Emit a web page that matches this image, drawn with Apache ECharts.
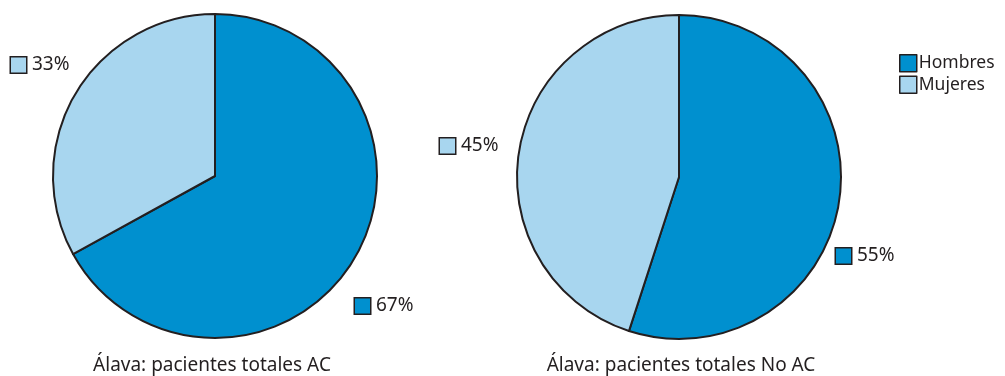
<!DOCTYPE html>
<html>
<head>
<meta charset="utf-8">
<script src="https://cdn.jsdelivr.net/npm/echarts@6/dist/echarts.min.js"></script>
<style>
  html, body { margin: 0; padding: 0; background: #ffffff; }
  #chart { width: 1005px; height: 376px; }
</style>
</head>
<body>
<div id="chart"></div>
<script>
// Sex breakdown of patients in Álava
const categories = ['Hombres', 'Mujeres'];
const valuesAC = [67, 33];
const valuesNoAC = [55, 45];
const titles = ['Álava: pacientes totales AC', 'Álava: pacientes totales No AC'];

const colors = ['#0090cf', '#a8d6ef'];
const ink = '#231f20';
const font = 'Noto Sans';

// Where each percentage tag sits (left edge of its swatch, vertical middle)
const tagSpots = [
  [[355, 306], [11, 65]],
  [[836, 256], [440, 146]]
];

const chart = echarts.init(document.getElementById('chart'));

function pieSeries(idx, values, center) {
  return {
    type: 'pie',
    center: center,
    radius: 162,
    startAngle: 90,
    clockwise: true,
    animation: false,
    silent: true,
    data: categories.map((c, i) => ({
      name: c,
      value: values[i],
      itemStyle: { color: colors[i] }
    })),
    itemStyle: { borderColor: ink, borderWidth: 2 },
    label: {
      show: true,
      position: 'outside',
      overflow: 'none',
      edgeDistance: 0,
      formatter: p => '{s' + p.dataIndex + '|}{v|' + p.value + '%}',
      rich: {
        s0: { width: 15, height: 15, backgroundColor: colors[0], borderColor: ink, borderWidth: 1.5 },
        s1: { width: 15, height: 15, backgroundColor: colors[1], borderColor: ink, borderWidth: 1.5 },
        v: { fontFamily: font, fontSize: 19, color: ink, padding: [0, 0, 0, 6] }
      }
    },
    labelLine: { show: false },
    labelLayout: p => ({
      x: tagSpots[idx][p.dataIndex][0],
      y: tagSpots[idx][p.dataIndex][1],
      align: 'left',
      verticalAlign: 'middle',
      hideOverlap: false
    })
  };
}

chart.setOption({
  backgroundColor: '#ffffff',
  title: [
    { text: titles[0], left: 207, top: 351, textAlign: 'center',
      textStyle: { fontFamily: font, fontSize: 19, fontWeight: 'normal', color: ink } },
    { text: titles[1], left: 676, top: 351, textAlign: 'center',
      textStyle: { fontFamily: font, fontSize: 19, fontWeight: 'normal', color: ink } }
  ],
  legend: {
    data: categories,
    orient: 'vertical',
    left: 894,
    top: 49,
    itemWidth: 17,
    itemHeight: 17,
    itemGap: 3,
    icon: 'rect',
    selectedMode: false,
    itemStyle: { borderColor: ink, borderWidth: 1.5 },
    textStyle: { fontFamily: font, fontSize: 17.5, lineHeight: 17, color: ink, padding: [0, 0, 0, -3] }
  },
  series: [
    pieSeries(0, valuesAC, [215, 176]),
    pieSeries(1, valuesNoAC, [679, 177])
  ]
});
</script>
</body>
</html>
